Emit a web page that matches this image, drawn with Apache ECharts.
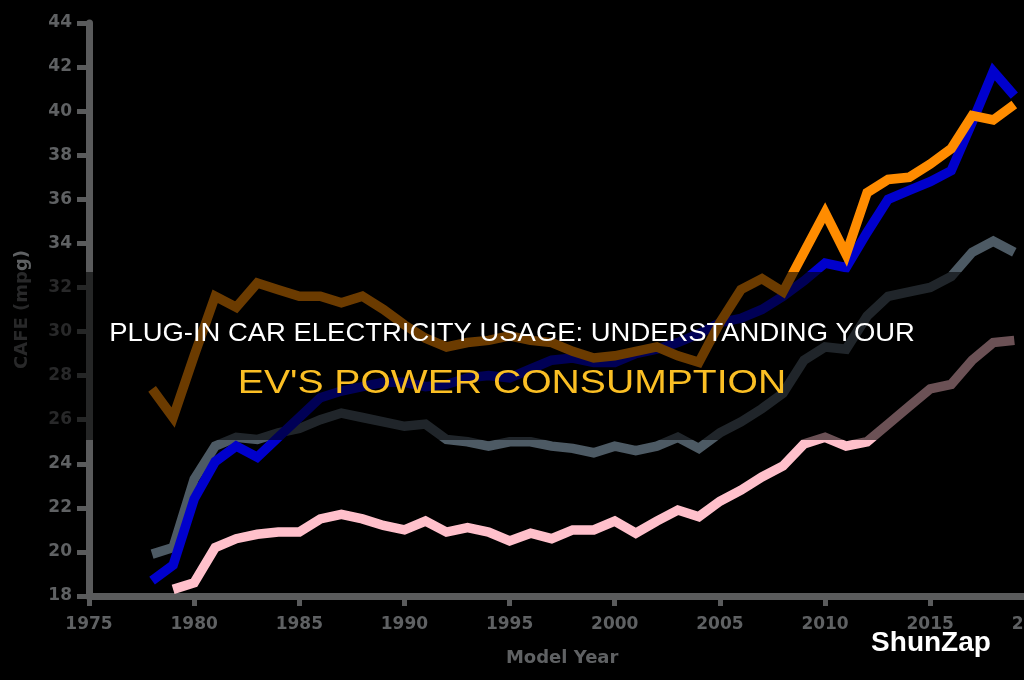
<!DOCTYPE html>
<html>
<head>
<meta charset="utf-8">
<script src="https://cdn.jsdelivr.net/npm/echarts@6/dist/echarts.min.js"></script>
<style>
	html, body { margin: 0; padding: 0; background: #000; overflow: hidden; }
	#chart { width: 1062px; height: 680px; }
</style>
</head>
<body>
<div id="chart"></div>
<script>
var years = [];
for(var y = 1978; y <= 2019; y++) years.push(y);

// values, 1978..2019 (null = no point)
var orangeVals = [27.4, 26.1, 28.9, 31.6, 31.1, 32.2, 31.9, 31.6, 31.6, 31.3,
	31.6, 31.0, 30.3, 29.7, 29.3, 29.5, 29.6, 29.8, 29.6, 29.5,
	29.1, 28.8, 28.9, 29.1, 29.3, 28.9, 28.6, 30.4, 31.9, 32.4,
	31.8, 33.6, 35.4, 33.5, 36.3, 36.9, 37.0, 37.6, 38.3, 39.8,
	39.6, 40.3];
var blueVals = [18.7, 19.4, 22.4, 24.1, 24.8, 24.3, 25.2, 26.1, 27.0, 27.3,
	27.5, 27.7, 27.7, 27.5, 27.6, 27.9, 28.0, 27.9, 28.3, 28.7,
	28.8, 28.6, 28.6, 29.0, 29.2, 29.5, 29.9, 30.4, 30.6, 31.0,
	31.6, 32.3, 33.1, 32.9, 34.5, 36.0, 36.4, 36.8, 37.3, 39.5,
	41.8, 40.7];
var greyVals = [19.9, 20.2, 23.3, 24.8, 25.2, 25.1, 25.4, 25.6, 26.0, 26.3,
	26.1, 25.9, 25.7, 25.8, 25.1, 25.0, 24.8, 25.0, 25.0, 24.8,
	24.7, 24.5, 24.8, 24.6, 24.8, 25.2, 24.7, 25.4, 25.9, 26.5,
	27.2, 28.7, 29.3, 29.2, 30.7, 31.6, 31.8, 32.0, 32.5, 33.6,
	34.1, 33.6];
var pinkVals = [null, 18.3, 18.6, 20.2, 20.6, 20.8, 20.9, 20.9, 21.5, 21.7,
	21.5, 21.2, 21.0, 21.4, 20.9, 21.1, 20.9, 20.5, 20.85, 20.6,
	21.0, 21.0, 21.4, 20.85, 21.4, 21.9, 21.6, 22.3, 22.8, 23.4,
	23.9, 24.9, 25.2, 24.8, 25.0, 25.8, 26.6, 27.4, 27.6, 28.7,
	29.5, 29.6];

var titleLine1 = "PLUG-IN CAR ELECTRICITY USAGE: UNDERSTANDING YOUR";
var titleLine2 = "EV'S POWER CONSUMPTION";
var brand = "ShunZap";

function pairs(vals) {
	var out = [];
	for(var i = 0; i < years.length; i++) {
		out.push([years[i], vals[i]]);
	}
	return out;
}

function lineSeries(vals, color) {
	return {
		type: 'line',
		data: pairs(vals),
		symbol: 'none',
		connectNulls: false,
		lineStyle: { color: color, width: 9.5, join: 'miter' },
		silent: true
	};
}

var axisGrey = '#5a5b5c';
var labelGrey = '#5f6163';

var myChart = echarts.init(document.getElementById('chart'));
var option = {
	backgroundColor: '#000',
	animation: false,
	grid: { left: 89, right: 19, top: 23, bottom: 84, containLabel: false },
	xAxis: {
		type: 'value',
		min: 1975,
		max: 2020,
		interval: 5,
		name: 'Model Year',
		nameLocation: 'middle',
		nameGap: 53,
		nameTextStyle: { color: labelGrey, fontSize: 18, fontWeight: 'bold', fontFamily: 'DejaVu Sans' },
		splitLine: { show: false },
		axisLine: { lineStyle: { color: axisGrey, width: 7 } },
		axisTick: { length: 10, lineStyle: { color: axisGrey, width: 5 } },
		axisLabel: {
			color: labelGrey, fontSize: 17, fontWeight: 'bold', fontFamily: 'DejaVu Sans', margin: 20,
			formatter: function(v) { return String(v); }
		}
	},
	yAxis: {
		type: 'value',
		min: 18,
		max: 44,
		interval: 2,
		name: 'CAFE (mpg)',
		nameLocation: 'middle',
		nameGap: 58,
		nameTextStyle: { color: labelGrey, fontSize: 18, fontWeight: 'bold', fontFamily: 'DejaVu Sans' },
		splitLine: { show: false },
		axisLine: { show: true, lineStyle: { color: axisGrey, width: 7 } },
		axisTick: { show: true, length: 12, lineStyle: { color: axisGrey, width: 5 } },
		axisLabel: { color: labelGrey, fontSize: 17, fontWeight: 'bold', fontFamily: 'DejaVu Sans', margin: 17 }
	},
	series: [
		lineSeries(greyVals, '#4d5a64'),
		lineSeries(pinkVals, '#ffc0cb'),
		lineSeries(blueVals, '#0000cd'),
		lineSeries(orangeVals, '#ff8c00')
	],
	graphic: [
		{
			type: 'rect',
			z: 100,
			shape: { x: 0, y: 272, width: 1062, height: 168 },
			style: { fill: 'rgba(0,0,0,0.58)' }
		},
		{
			type: 'text',
			z: 101,
			x: 512,
			y: 334,
			scaleX: 1.055,
			style: {
				text: titleLine1,
				fill: '#fff',
				font: '26px "Liberation Sans", Arial, sans-serif',
				textAlign: 'center',
				textVerticalAlign: 'middle'
			}
		},
		{
			type: 'text',
			z: 101,
			x: 512,
			y: 384,
			scaleX: 1.15,
			style: {
				text: titleLine2,
				fill: '#fbbf24',
				font: '34px "Liberation Sans", Arial, sans-serif',
				textAlign: 'center',
				textVerticalAlign: 'middle'
			}
		},
		{
			type: 'text',
			z: 101,
			x: 931,
			y: 643,
			style: {
				text: brand,
				fill: '#fff',
				font: 'bold 28px "Liberation Sans", Arial, sans-serif',
				textAlign: 'center',
				textVerticalAlign: 'middle'
			}
		}
	]
};
myChart.setOption(option);
</script>
</body>
</html>
